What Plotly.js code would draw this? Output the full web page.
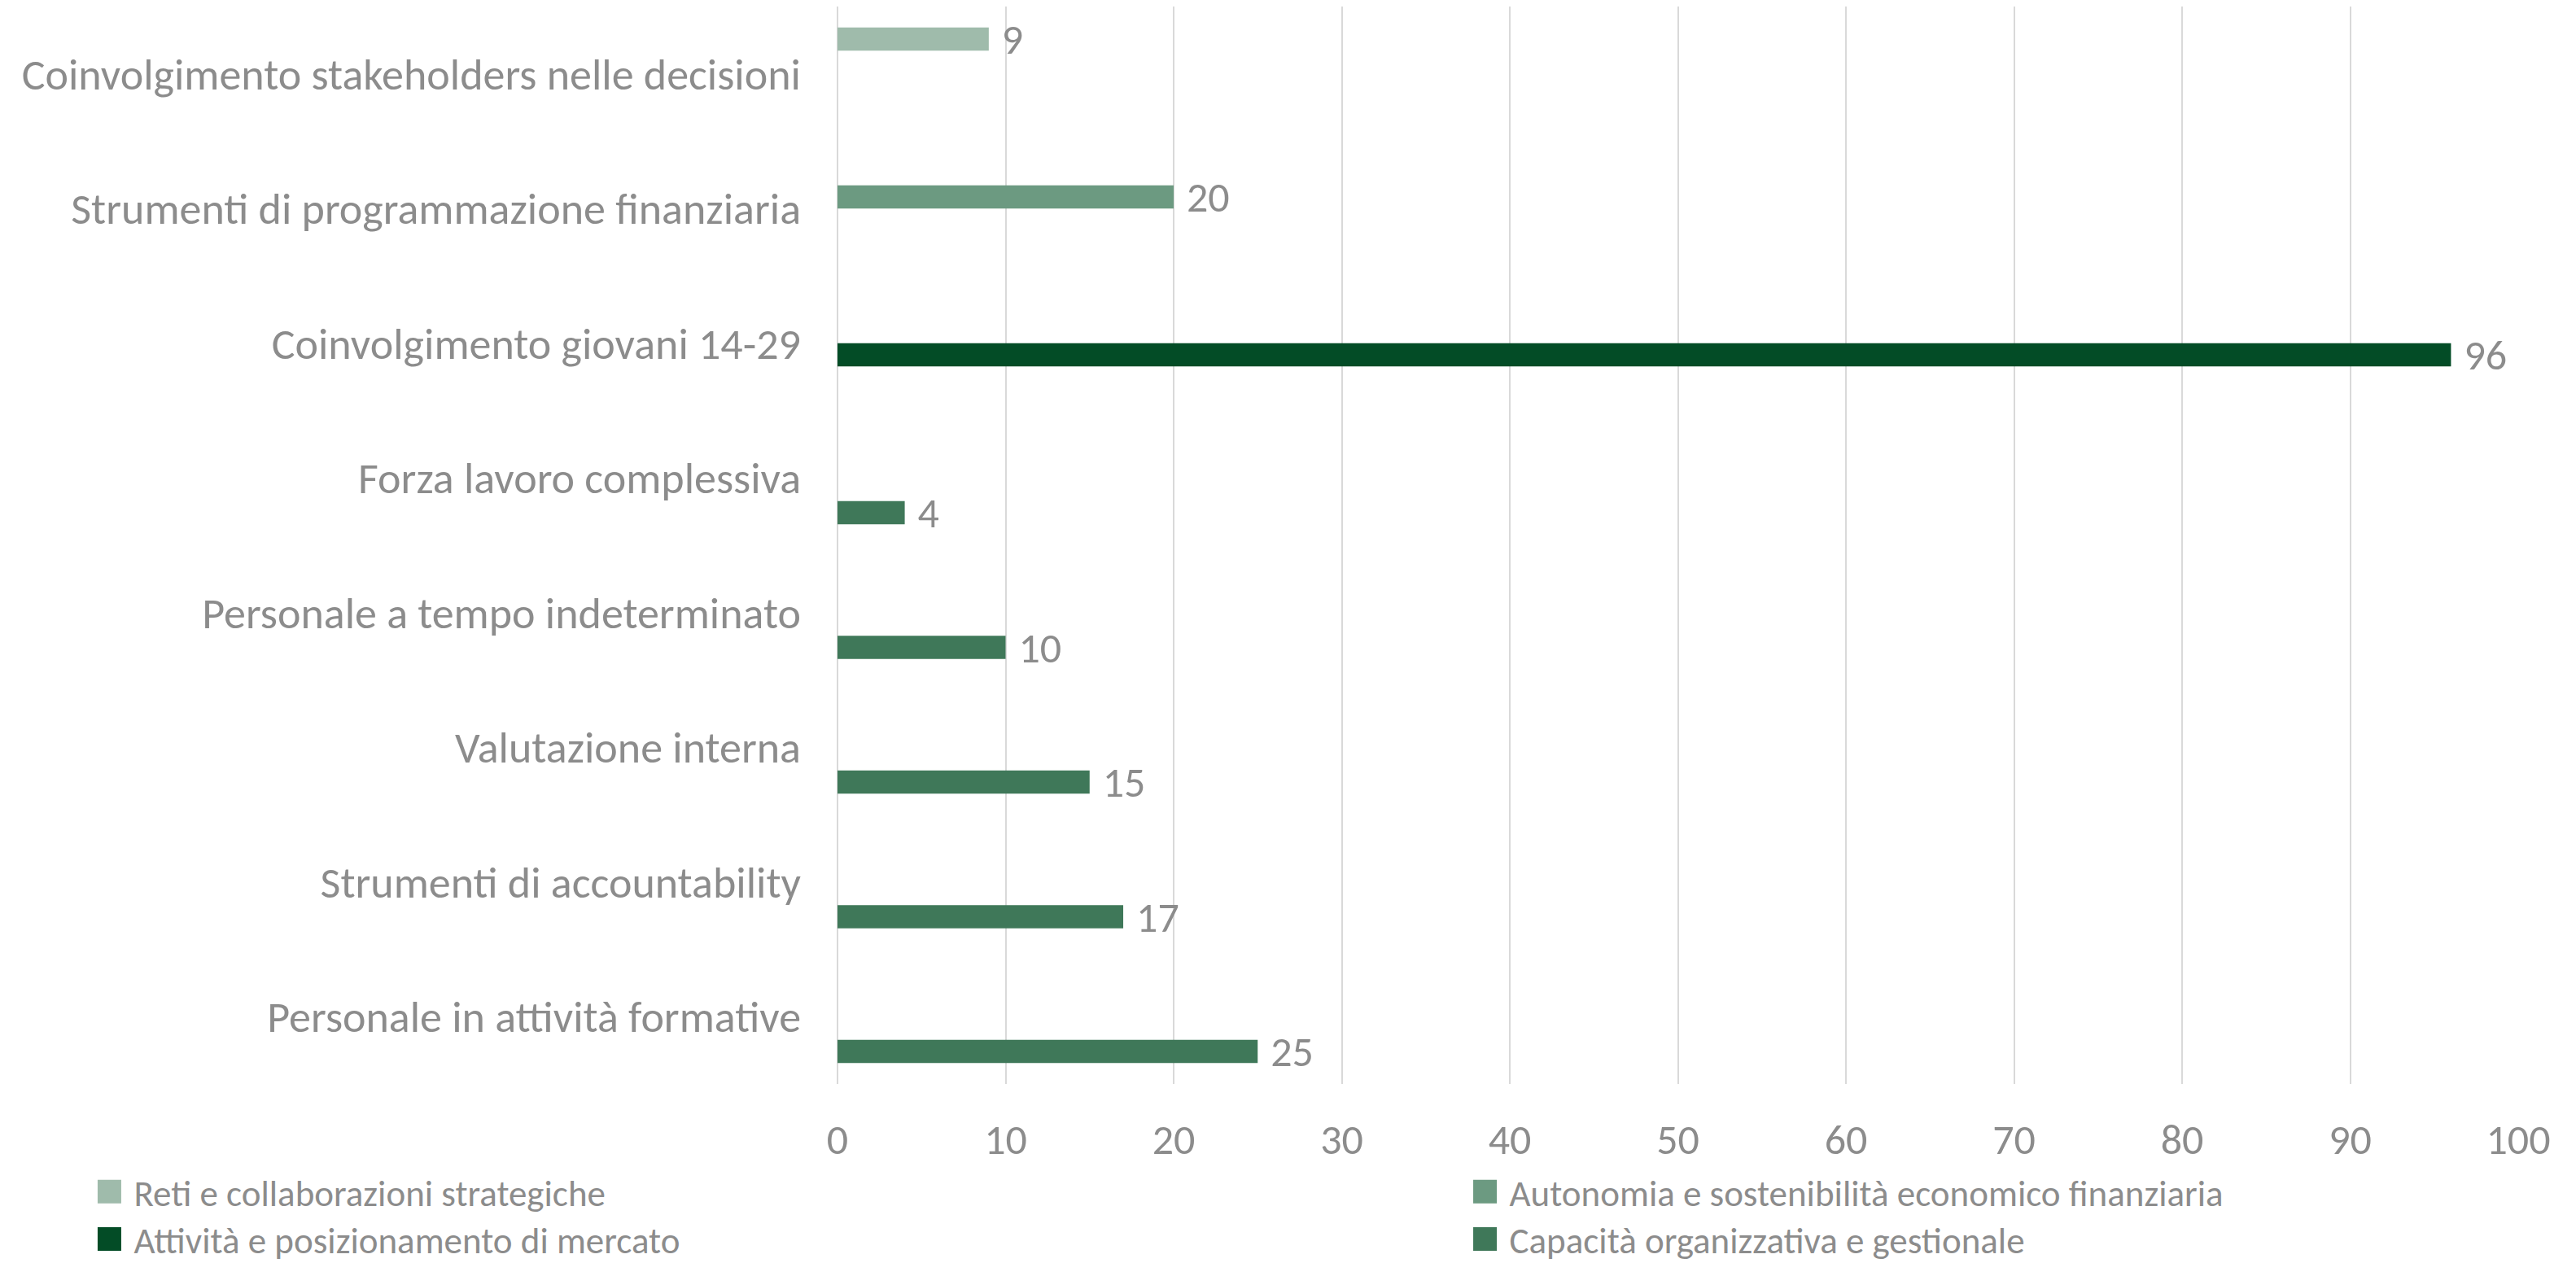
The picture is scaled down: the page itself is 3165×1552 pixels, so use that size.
<!DOCTYPE html>
<html>
<head>
<meta charset="utf-8">
<script src="https://cdn.plot.ly/plotly-3.0.1.min.js"></script>
<style>
  html, body { margin: 0; padding: 0; background: #ffffff; }
  #chart { width: 3165px; height: 1552px; }
</style>
</head>
<body>
<div id="chart"></div>
<script>
// Categories listed bottom to top (as on the value axis order)
const categories = [
  'Personale in attività formative',
  'Strumenti di accountability',
  'Valutazione interna',
  'Personale a tempo indeterminato',
  'Forza lavoro complessiva',
  'Coinvolgimento giovani 14-29',
  'Strumenti di programmazione finanziaria',
  'Coinvolgimento stakeholders nelle decisioni'
];

const seriesNames = [
  'Capacità organizzativa e gestionale',
  'Attività e posizionamento di mercato',
  'Autonomia e sostenibilità economico finanziaria',
  'Reti e collaborazioni strategiche'
];

const capacita  = [25, 17, 15, 10, 4, null, null, null];
const attivita  = [null, null, null, null, null, 96, null, null];
const autonomia = [null, null, null, null, null, null, 20, null];
const reti      = [null, null, null, null, null, null, null, 9];

const xTicks = [0, 10, 20, 30, 40, 50, 60, 70, 80, 90, 100];

const colors = ['#3F7859', '#034C26', '#6C9A81', '#9FBBAB'];
const legendOf = ['legend4', 'legend3', 'legend2', 'legend'];

const FONT = "Carlito, 'Liberation Sans Narrow', Lato, sans-serif";
const GRAY = '#8C8C8C';
const FS = 52;
const CFS = 54;
const LFS = 45;

const values = [capacita, attivita, autonomia, reti];

const traces = values.map((v, i) => ({
  type: 'bar',
  orientation: 'h',
  name: seriesNames[i],
  y: categories,
  x: v,
  marker: { color: colors[i], line: { width: 0 } },
  text: v.map(d => d === null ? '' : String(d)),
  texttemplate: '\u2005%{text}',
  textposition: 'outside',
  constraintext: 'none',
  cliponaxis: false,
  textfont: { family: FONT, size: FS, color: GRAY },
  legend: legendOf[i],
  hoverinfo: 'x+y+name'
}));

const legendBase = {
  xref: 'container', yref: 'container',
  xanchor: 'left', yanchor: 'top',
  orientation: 'v',
  itemwidth: 50,
  font: { family: FONT, size: LFS, color: GRAY },
  bgcolor: 'rgba(0,0,0,0)',
  borderwidth: 0,
  itemclick: false, itemdoubleclick: false
};

const COL1 = 0.0330, COL2 = 0.5670, ROW1 = 0.0795, ROW2 = 0.0421;

const layout = {
  width: 3165,
  height: 1552,
  paper_bgcolor: '#ffffff',
  plot_bgcolor: '#ffffff',
  font: { family: FONT, size: FS, color: GRAY },
  margin: { l: 1029, r: 71, t: 8, b: 220, pad: 0, autoexpand: false },
  barmode: 'group',
  bargap: 0.31,
  bargroupgap: 0,
  xaxis: {
    range: [0, 100],
    tickmode: 'array',
    tickvals: xTicks,
    ticktext: xTicks.map(String),
    showgrid: true,
    gridcolor: '#D9D9D9',
    gridwidth: 2,
    zeroline: true,
    zerolinecolor: '#D9D9D9',
    zerolinewidth: 2,
    showline: false,
    ticks: '',
    ticklabelstandoff: 33,
    tickfont: { family: FONT, size: FS, color: GRAY },
    fixedrange: true,
    automargin: false
  },
  yaxis: {
    type: 'category',
    categoryorder: 'array',
    categoryarray: categories,
    showgrid: false,
    zeroline: false,
    showline: false,
    ticks: '',
    ticklabelstandoff: 44,
    tickfont: { family: FONT, size: CFS, color: GRAY },
    fixedrange: true,
    automargin: false
  },
  showlegend: true,
  legend:  Object.assign({}, legendBase, { x: COL1, y: ROW1 }),
  legend2: Object.assign({}, legendBase, { x: COL2, y: ROW1 }),
  legend3: Object.assign({}, legendBase, { x: COL1, y: ROW2 }),
  legend4: Object.assign({}, legendBase, { x: COL2, y: ROW2 })
};

Plotly.newPlot('chart', traces, layout, { displayModeBar: false, staticPlot: true }).then(gd => {
  // enlarge the legend swatches to the reference's square key size
  gd.querySelectorAll('.legendpoints path').forEach(p => {
    const fill = p.style.fill || window.getComputedStyle(p).fill;
    p.style.stroke = fill;
    p.style.strokeWidth = '17px';
    p.style.strokeOpacity = '1';
    p.style.strokeLinejoin = 'miter';
  });
});
</script>
</body>
</html>
